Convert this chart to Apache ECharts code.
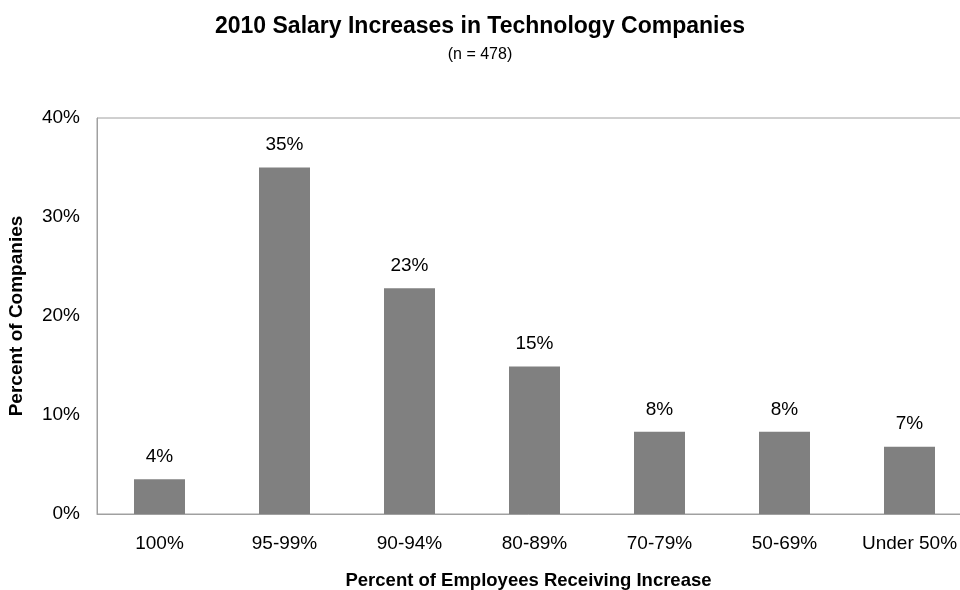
<!DOCTYPE html>
<html>
<head>
<meta charset="utf-8">
<script src="https://cdn.jsdelivr.net/npm/echarts@6/dist/echarts.min.js"></script>
<style>html,body{margin:0;padding:0;background:#fff;}#chart{width:960px;height:590px;}</style>
</head>
<body>
<div id="chart"></div>
<script>
const categories = ['100%', '95-99%', '90-94%', '80-89%', '70-79%', '50-69%', 'Under 50%'];
const values = [3.5, 35.0, 22.8, 14.9, 8.3, 8.3, 6.8];
const labels = ['4%', '35%', '23%', '15%', '8%', '8%', '7%'];
const yTicks = [0, 10, 20, 30, 40];

const chart = echarts.init(document.getElementById('chart'));
const font = 'Liberation Sans, Arial, sans-serif';
chart.setOption({
  animation: false,
  title: [{
    text: '2010 Salary Increases in Technology Companies',
    left: 'center',
    top: 10,
    textStyle: { fontFamily: font, fontSize: 23, fontWeight: 'bold', color: '#000' }
  }, {
    text: '(n = 478)',
    left: 'center',
    top: 42,
    textStyle: { fontFamily: font, fontSize: 16, fontWeight: 'normal', color: '#000' }
  }],
  grid: {
    left: 97, top: 118, width: 875, height: 396,
    outerBoundsMode: 'none',
    containLabel: false,
    show: true, borderColor: '#a0a0a0', borderWidth: 1, backgroundColor: 'transparent'
  },
  xAxis: {
    type: 'category',
    data: categories,
    name: 'Percent of Employees Receiving Increase',
    nameLocation: 'middle',
    nameGap: 57,
    nameTextStyle: { fontFamily: font, fontSize: 18.5, fontWeight: 'bold', color: '#000', padding: [0, 12, 0, 0] },
    axisLine: { lineStyle: { color: '#a0a0a0', width: 1 } },
    axisTick: { show: false },
    axisLabel: { fontFamily: font, fontSize: 19, color: '#000', margin: 20, interval: 0 }
  },
  yAxis: {
    type: 'value',
    min: yTicks[0], max: yTicks[yTicks.length - 1], interval: 10,
    name: 'Percent of Companies',
    nameLocation: 'middle',
    nameGap: 71,
    nameTextStyle: { fontFamily: font, fontSize: 19, fontWeight: 'bold', color: '#000' },
    axisLine: { show: true, lineStyle: { color: '#a0a0a0', width: 1 } },
    axisTick: { show: false },
    splitLine: { show: false },
    axisLabel: { fontFamily: font, fontSize: 19, color: '#000', margin: 17, formatter: v => v + '%' }
  },
  series: [{
    type: 'bar',
    data: values,
    barWidth: 51,
    itemStyle: { color: '#808080' },
    label: {
      show: true, position: 'top', distance: 13,
      fontFamily: font, fontSize: 19, color: '#000',
      formatter: p => labels[p.dataIndex]
    }
  }]
});
</script>
</body>
</html>
